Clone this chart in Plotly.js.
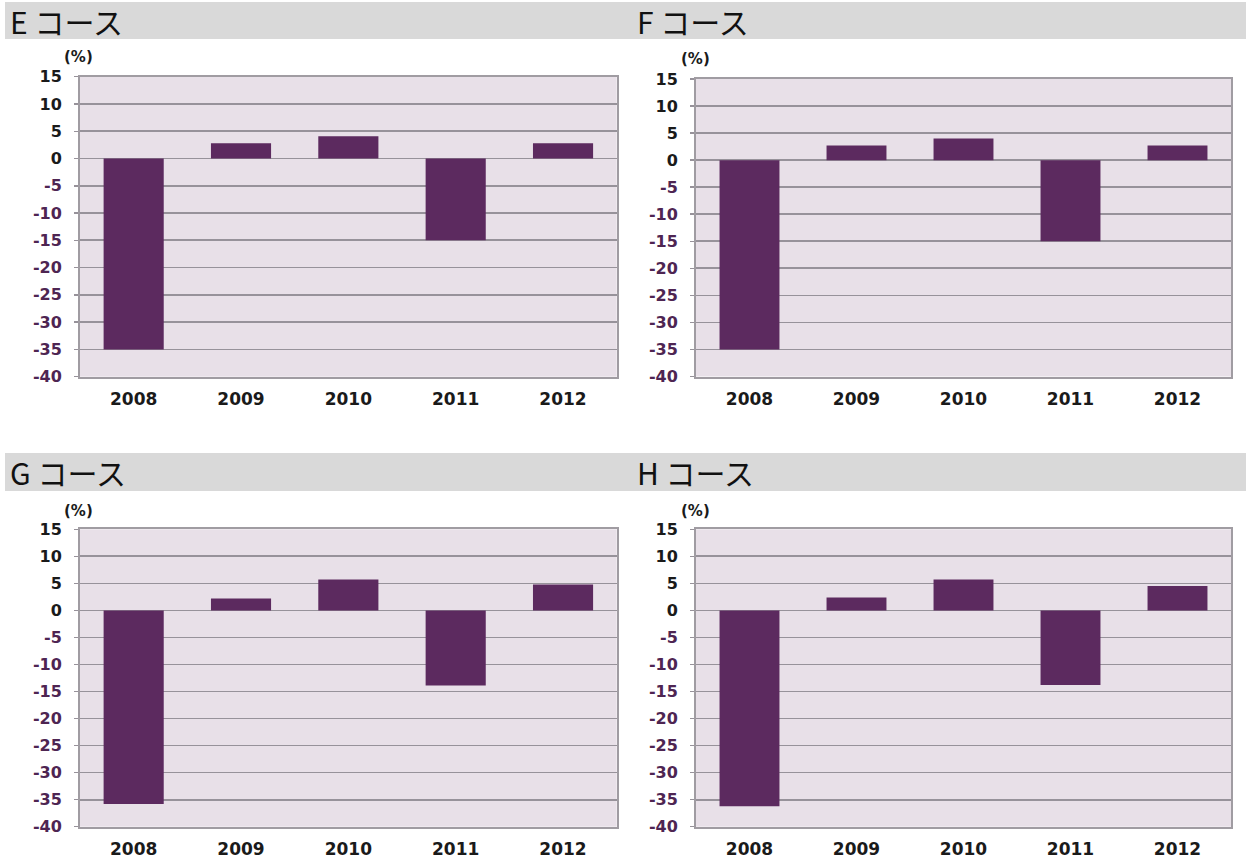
<!DOCTYPE html>
<html>
<head>
<meta charset="utf-8">
<script src="https://cdn.plot.ly/plotly-3.0.1.min.js"></script>
<style>
  html, body { margin: 0; padding: 0; background: #ffffff; }
  #chart { width: 1246px; height: 865px; }
</style>
</head>
<body>
<div id="chart"></div>
<script>
// ---- data ----
const years = ['2008', '2009', '2010', '2011', '2012'];
const courseNames = ['E コース', 'F コース', 'G コース', 'H コース'];
const courseE = [-35.0, 2.8, 4.1, -15.0, 2.8];
const courseF = [-35.0, 2.7, 4.0, -15.0, 2.7];
const courseG = [-35.8, 2.2, 5.7, -13.9, 4.8];
const courseH = [-36.2, 2.4, 5.7, -13.8, 4.5];
const yTickValues = [15, 10, 5, 0, -5, -10, -15, -20, -25, -30, -35, -40];
const unitLabel = '(%)';

// ---- layout helpers ----
const W = 1246, H = 865;
const px = v => v / W;
const py = v => 1 - v / H;

const barColor = '#5c2a5f';
const plotBg = '#e8e0e8';
const gridColor = '#97929a';
const borderColor = '#a09ca2';
const posLabel = '#1a1a1a';
const negLabel = '#4e2552';

const panels = [
  { name: courseNames[0], vals: courseE, x: [80, 616.7], y: [76.7, 376.7], hdrY: [2, 39], hdrX: 8, unit: [62, 57] },
  { name: courseNames[1], vals: courseF, x: [696, 1231], y: [79, 376.5], hdrY: [2, 39], hdrX: 635, unit: [679, 59] },
  { name: courseNames[2], vals: courseG, x: [80, 616.7], y: [529.3, 826.7], hdrY: [453, 491], hdrX: 8, unit: [62, 511] },
  { name: courseNames[3], vals: courseH, x: [696, 1231], y: [529.3, 826.7], hdrY: [453, 491], hdrX: 635, unit: [679, 511] }
];

const tickText = yTickValues.map(v =>
  '<b><span style="color:' + (v < 0 ? negLabel : posLabel) + '">' + v + '</span></b>'
);
const xTickText = years.map(y => '<b>' + y + '</b>');

const data = [];
const layout = {
  width: W, height: H,
  margin: { l: 0, r: 0, t: 0, b: 0 },
  paper_bgcolor: '#ffffff',
  plot_bgcolor: plotBg,
  showlegend: false,
  bargap: 0.44,
  shapes: [],
  annotations: []
};

// header bands (one continuous band per row)
[[2, 39], [453, 491]].forEach(b => {
  layout.shapes.push({
    type: 'rect', xref: 'paper', yref: 'paper',
    x0: px(5), x1: 1, y0: py(b[1]), y1: py(b[0]),
    fillcolor: '#d9d9d9', line: { width: 0 }, layer: 'below'
  });
});

panels.forEach((p, i) => {
  const n = i + 1;
  const xa = n === 1 ? 'xaxis' : 'xaxis' + n;
  const ya = n === 1 ? 'yaxis' : 'yaxis' + n;
  const xr = n === 1 ? 'x' : 'x' + n;
  const yr = n === 1 ? 'y' : 'y' + n;

  data.push({
    type: 'bar', x: years, y: p.vals,
    xaxis: xr, yaxis: yr,
    marker: { color: barColor, line: { width: 0 } },
    hoverinfo: 'x+y'
  });

  layout[xa] = {
    domain: [px(p.x[0]), px(p.x[1])],
    anchor: yr,
    type: 'category',
    tickmode: 'array',
    tickvals: years,
    ticktext: xTickText,
    showgrid: false,
    zeroline: false,
    showline: true, linecolor: borderColor, linewidth: 2, mirror: true,
    ticks: '',
    tickfont: { family: 'DejaVu Sans', size: 17, color: '#1a1a1a' },
    ticklabelstandoff: 6,
    fixedrange: true
  };
  layout[ya] = {
    domain: [py(p.y[1]), py(p.y[0])],
    anchor: xr,
    range: [-40, 15],
    tickmode: 'array',
    tickvals: yTickValues,
    ticktext: tickText,
    showgrid: true, gridcolor: gridColor, gridwidth: 1.7,
    zeroline: false,
    showline: true, linecolor: borderColor, linewidth: 2, mirror: true,
    ticks: 'outside', ticklen: 4, tickcolor: gridColor, tickwidth: 1.5,
    tickfont: { family: 'DejaVu Sans', size: 16, color: '#1a1a1a' },
    ticklabelstandoff: 9,
    fixedrange: true
  };

  layout.annotations.push({
    xref: 'paper', yref: 'paper',
    x: px(p.hdrX), y: py((p.hdrY[0] + p.hdrY[1]) / 2),
    xanchor: 'left', yanchor: 'middle',
    text: p.name, showarrow: false,
    font: { family: 'Noto Sans CJK JP', size: 30, color: '#111111' }
  });
  layout.annotations.push({
    xref: 'paper', yref: 'paper',
    x: px(p.unit[0]), y: py(p.unit[1]),
    xanchor: 'left', yanchor: 'middle',
    text: '<b>' + unitLabel + '</b>', showarrow: false,
    font: { family: 'DejaVu Sans', size: 15, color: '#1a1a1a' }
  });
});

Plotly.newPlot('chart', data, layout, { displayModeBar: false, staticPlot: true });
</script>
</body>
</html>
